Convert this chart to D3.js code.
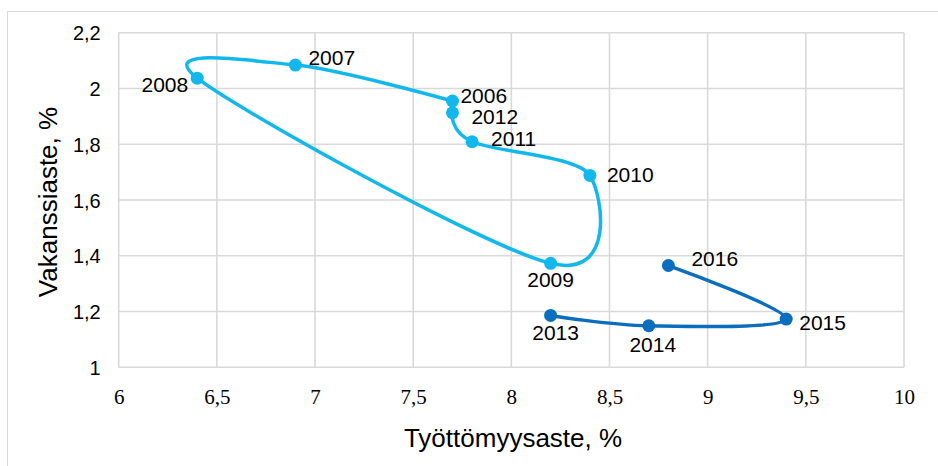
<!DOCTYPE html>
<html>
<head>
<meta charset="utf-8">
<script src="https://cdn.jsdelivr.net/npm/d3@7"></script>
<style>
  html, body { margin: 0; padding: 0; background: #fff; }
  svg { display: block; }
</style>
</head>
<body>
<svg id="chart" width="938" height="466"></svg>
<script>
// ---- data ----
const years1 = ["2006", "2007", "2008", "2009", "2010", "2011", "2012"];
const unemp1 = [7.7, 6.9, 6.4, 8.2, 8.4, 7.8, 7.7];
const vacancy1 = [1.955, 2.084, 2.037, 1.373, 1.688, 1.809, 1.913];

const years2 = ["2013", "2014", "2015", "2016"];
const unemp2 = [8.2, 8.7, 9.4, 8.8];
const vacancy2 = [1.186, 1.149, 1.173, 1.365];

const xTicks = [6, 6.5, 7, 7.5, 8, 8.5, 9, 9.5, 10];
const yTicks = [1, 1.2, 1.4, 1.6, 1.8, 2, 2.2];

const xTitle = "Työttömyysaste, %";
const yTitle = "Vakanssiaste, %";

// ---- label placement (style) ----
const labelStyle = {
  "2006": { dx: 8, dy: 2, anchor: "start" },
  "2007": { dx: 13, dy: 0, anchor: "start" },
  "2008": { dx: -9, dy: 14, anchor: "end" },
  "2009": { dx: 0, dy: 24, anchor: "middle" },
  "2010": { dx: 17, dy: 7, anchor: "start" },
  "2011": { dx: 19, dy: 4, anchor: "start" },
  "2012": { dx: 19, dy: 11, anchor: "start" },
  "2013": { dx: 5, dy: 25, anchor: "middle" },
  "2014": { dx: 4, dy: 26, anchor: "middle" },
  "2015": { dx: 13, dy: 11, anchor: "start" },
  "2016": { dx: 23, dy: 0, anchor: "start" }
};

const color1 = "#12B8EC";
const color2 = "#0A6DBD";
const gridColor = "#d9d9d9";

const svg = d3.select("#chart");
const W = 938, H = 466;
const plot = { left: 118.7, right: 904, top: 32.7, bottom: 367.3 };

// outer chart border
svg.append("rect")
  .attr("x", 7.5).attr("y", 11.5)
  .attr("width", W).attr("height", H)
  .attr("fill", "none").attr("stroke", gridColor).attr("stroke-width", 1);

const x = d3.scaleLinear().domain([6, 10]).range([plot.left, plot.right]);
const y = d3.scaleLinear().domain([1, 2.2]).range([plot.bottom, plot.top]);

const fmt = d => String(d).replace(".", ",");

// grid
const grid = svg.append("g");
grid.selectAll("line.v").data(xTicks).join("line")
  .attr("x1", d => x(d)).attr("x2", d => x(d))
  .attr("y1", plot.top).attr("y2", plot.bottom)
  .attr("stroke", gridColor).attr("stroke-width", 1.6);
grid.selectAll("line.h").data(yTicks).join("line")
  .attr("x1", plot.left).attr("x2", plot.right)
  .attr("y1", d => y(d)).attr("y2", d => y(d))
  .attr("stroke", gridColor).attr("stroke-width", 1.6);

// x axis tick labels (serif)
const xAxis = d3.axisBottom(x).tickValues(xTicks).tickFormat(fmt).tickSize(0).tickPadding(0);
const gx = svg.append("g").attr("transform", `translate(0,${plot.bottom})`).call(xAxis);
gx.select(".domain").remove();
gx.selectAll("text")
  .attr("dy", null).attr("y", 37)
  .attr("font-family", "'Liberation Serif', 'Times New Roman', serif")
  .attr("font-size", 21).attr("fill", "#000");

// y axis tick labels
const yAxis = d3.axisLeft(y).tickValues(yTicks).tickFormat(fmt).tickSize(0).tickPadding(0);
const gy = svg.append("g").attr("transform", `translate(${plot.left - 18},0)`).call(yAxis);
gy.select(".domain").remove();
gy.selectAll("text")
  .attr("dy", "0.36em")
  .attr("font-family", "'Liberation Sans', Arial, sans-serif")
  .attr("font-size", 20).attr("fill", "#000");

// axis titles
svg.append("text")
  .attr("x", 513).attr("y", 447)
  .attr("text-anchor", "middle")
  .attr("font-family", "'Liberation Sans', Arial, sans-serif")
  .attr("font-size", 26).attr("fill", "#000")
  .text(xTitle);
svg.append("text")
  .attr("transform", "translate(57,202) rotate(-90)")
  .attr("text-anchor", "middle")
  .attr("font-family", "'Liberation Sans', Arial, sans-serif")
  .attr("font-size", 26).attr("fill", "#000")
  .text(yTitle);

// series
function drawSeries(years, xs, ys, color) {
  const pts = years.map((yr, i) => ({ year: yr, x: xs[i], y: ys[i] }));
  const line = d3.line().x(d => x(d.x)).y(d => y(d.y)).curve(d3.curveCardinal.tension(0));
  svg.append("path").datum(pts)
    .attr("d", line)
    .attr("fill", "none").attr("stroke", color)
    .attr("stroke-width", 3.5).attr("stroke-linecap", "round").attr("stroke-linejoin", "round");
  svg.append("g").selectAll("circle").data(pts).join("circle")
    .attr("cx", d => x(d.x)).attr("cy", d => y(d.y)).attr("r", 6.5)
    .attr("fill", color);
  svg.append("g").selectAll("text").data(pts).join("text")
    .attr("x", d => x(d.x) + labelStyle[d.year].dx)
    .attr("y", d => y(d.y) + labelStyle[d.year].dy)
    .attr("text-anchor", d => labelStyle[d.year].anchor)
    .attr("font-family", "'Liberation Sans', Arial, sans-serif")
    .attr("font-size", 21).attr("fill", "#000")
    .text(d => d.year);
}

drawSeries(years1, unemp1, vacancy1, color1);
drawSeries(years2, unemp2, vacancy2, color2);
</script>
</body>
</html>
